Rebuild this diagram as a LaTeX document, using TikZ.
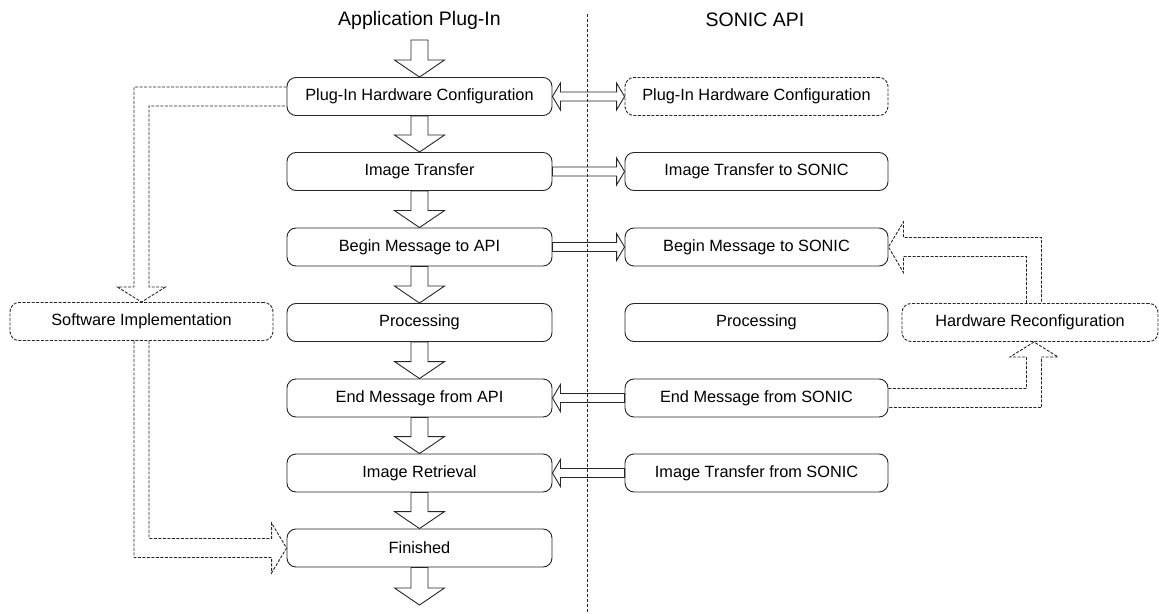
\documentclass[tikz,border=0pt]{standalone}
\usepackage{fontspec}
\setmainfont{Liberation Sans}
\usetikzlibrary{calc}
\newcommand\myboxfont{\fontsize{16.3bp}{19bp}\selectfont}
\newcommand\myttlfont{\fontsize{19.5bp}{22bp}\selectfont}
% vertical block arrow: start point, tip
\newcommand\myvarrow[2]{\draw[blk] ($(#1)+(-8.5,0)$) -- ($(#2)+(-8.5,-17)$) -- ($(#2)+(-25,-17)$) -- (#2) -- ($(#2)+(25,-17)$) -- ($(#2)+(8.5,-17)$) -- ($(#1)+(8.5,0)$) -- cycle;}
% horizontal block arrow: start, tip, direction (1 right, -1 left)
\newcommand\myharrow[3]{\draw[blk] ($(#1)+(0,-4.5)$) -- ($(#2)+({-8*(#3)},-4.5)$) -- ($(#2)+({-8*(#3)},-13.5)$) -- (#2) -- ($(#2)+({-8*(#3)},13.5)$) -- ($(#2)+({-8*(#3)},4.5)$) -- ($(#1)+(0,4.5)$) -- cycle;}
\begin{document}
\begin{tikzpicture}[x=1bp,y=-1bp,
  box/.style={draw=black!85, line width=0.9bp, rounded corners=9bp, minimum width=265bp, minimum height=38bp, inner sep=0pt, font=\myboxfont, text=black},
  rbox/.style={box, minimum width=263bp},
  dbox/.style={box, draw=black!85, dash pattern=on 3bp off 1.5bp},
  blk/.style={draw=black!85, line width=0.9bp, line join=miter},
  dblk/.style={draw=black!85, line width=0.9bp, dash pattern=on 3bp off 1.5bp, line join=miter},
  ttl/.style={font=\myttlfont, inner sep=0pt, text=black},
  divider/.style={draw=black!85, line width=0.8bp, dash pattern=on 3bp off 2bp}]
\useasboundingbox (0,0) rectangle (1159,614);

% titles
\node[ttl] (tapp) at (419.5,20) {Application Plug-In};
\node[ttl] (tapi) at (755,20) {SONIC API};

% left column
\coordinate (top) at (419.5,40);
\node[box] (pc) at (419.5,96.5) {Plug-In Hardware Configuration};
\node[box] (it) at (419.5,171.5) {Image Transfer};
\node[box] (bm) at (419.5,247) {Begin Message to API};
\node[box] (pr) at (419.5,322.5) {Processing};
\node[box] (em) at (419.5,398) {End Message from API};
\node[box] (ir) at (419.5,473) {Image Retrieval};
\node[box] (fin) at (419.5,548) {Finished};
\coordinate (bot) at (419.5,605);

% right column
\node[dbox, minimum width=263bp] (pcs) at (756.5,96.5) {Plug-In Hardware Configuration};
\node[rbox] (its) at (756.5,171.5) {Image Transfer to SONIC};
\node[rbox] (bms) at (756.5,247) {Begin Message to SONIC};
\node[rbox] (prs) at (756.5,322.5) {Processing};
\node[rbox] (ems) at (756.5,398) {End Message from SONIC};
\node[rbox] (irs) at (756.5,473) {Image Transfer from SONIC};

% side boxes
\node[dbox, minimum width=263bp] (sw) at (141.5,321.5) {Software Implementation};
\node[dbox, minimum width=256bp] (hr) at (1030,322.5) {Hardware Reconfiguration};

% divider
\coordinate (dtop) at (587,14);
\coordinate (dbot) at (587,614);
\draw[divider] (dtop) -- (dbot);

% vertical flow arrows
\myvarrow{top}{pc.north}
\myvarrow{pc.south}{it.north}
\myvarrow{it.south}{bm.north}
\myvarrow{bm.south}{pr.north}
\myvarrow{pr.south}{em.north}
\myvarrow{em.south}{ir.north}
\myvarrow{ir.south}{fin.north}
\myvarrow{fin.south}{bot}

% horizontal arrows
\draw[blk] ($(pc.east)+(8,-4.5)$) -- ($(pcs.west)+(-8,-4.5)$) -- ($(pcs.west)+(-8,-13.5)$) -- (pcs.west) -- ($(pcs.west)+(-8,13.5)$) -- ($(pcs.west)+(-8,4.5)$) -- ($(pc.east)+(8,4.5)$) -- ($(pc.east)+(8,13.5)$) -- (pc.east) -- ($(pc.east)+(8,-13.5)$) -- cycle;
\myharrow{it.east}{its.west}{1}
\myharrow{bm.east}{bms.west}{1}
\myharrow{ems.west}{em.east}{-1}
\myharrow{irs.west}{ir.east}{-1}

% dashed block arrows, left side
\draw[dblk] ($(pc.west)+(0,-9.5)$) -| ($(sw.north)+(-7.5,-15)$) -- ++(-16.5,0) -- (sw.north) -- ($(sw.north)+(24,-15)$) -- ($(sw.north)+(7.5,-15)$) |- ($(pc.west)+(0,9.5)$);
\draw[dblk] ($(sw.south)+(-7.5,0)$) |- ($(fin.west)+(-15,9.5)$) -- ++(0,15.5) -- (fin.west) -- ($(fin.west)+(-15,-25)$) -- ++(0,15.5) -| ($(sw.south)+(7.5,0)$);

% dashed block arrows, right side
\coordinate (hrs) at ($(hr.south)+(4,0)$);
\coordinate (hrn) at ($(hr.north)+(4,0)$);
\draw[dblk] ($(ems.east)+(0,-9.5)$) -| ($(hrs)+(-7.5,15)$) -- ++(-16.5,0) -- (hrs) -- ($(hrs)+(24,15)$) -- ($(hrs)+(7.5,15)$) |- ($(ems.east)+(0,9.5)$);
\draw[dblk] ($(hrn)+(-7.5,0)$) |- ($(bms.east)+(15,9.5)$) -- ++(0,16) -- (bms.east) -- ($(bms.east)+(15,-25)$) -- ++(0,15.5) -| ($(hrn)+(7.5,0)$);
\end{tikzpicture}
\end{document}
